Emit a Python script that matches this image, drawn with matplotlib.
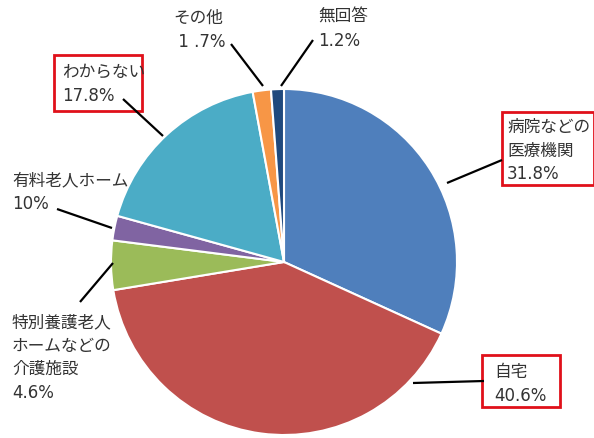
import matplotlib
matplotlib.use("Agg")
import matplotlib.pyplot as plt
from matplotlib.patches import Rectangle

plt.rcParams['font.family'] = ['DejaVu Sans', 'Noto Sans CJK JP']

# data (clockwise from 12 o'clock)
labels = ['病院などの医療機関', '自宅', '特別養護老人ホームなどの介護施設',
          '有料老人ホーム', 'わからない', 'その他', '無回答']
values = [31.8, 40.6, 4.6, 2.3, 17.8, 1.7, 1.2]
colors = ['#4F7FBC', '#C0504D', '#9BBB59', '#8064A2', '#4BACC6', '#F79646', '#1F497D']

# label texts as printed on the chart
label_texts = ['病院などの\n医療機関\n31.8%', '自宅\n40.6%',
               '特別養護老人\nホームなどの\n介護施設\n4.6%',
               '有料老人ホーム\n10%', 'わからない\n17.8%', 'その他\n 1 .7%', '無回答\n1.2%']

W, H = 594, 438


def px(x, y):
    # image pixel coords -> axes coords
    return x, H - y


fig = plt.figure(figsize=(W / 100, H / 100), dpi=100)
ax = fig.add_axes([0, 0, 1, 1])
ax.set_xlim(0, W)
ax.set_ylim(0, H)
ax.axis('off')

ax.pie(values, colors=colors, startangle=90, counterclock=False,
       center=px(284, 262), radius=173,
       wedgeprops=dict(edgecolor='white', linewidth=1.5))
ax.set_xlim(0, W)
ax.set_ylim(0, H)
ax.set_aspect('auto')

txt_color = '#333333'
fs = 12

# (text x, text top y, leader start, leader end, box)
layout = [
    ((507, 118), [(447, 183), (502, 160)], (502, 112, 92, 73)),
    ((494, 363), [(413, 383), (484, 381)], (482, 355, 78, 52)),
    ((12, 313), [(80, 302), (113, 263)], None),
    ((12, 171), [(57, 209), (112, 228)], None),
    ((62, 63), [(123, 99), (163, 136)], (54, 55, 88, 56)),
    ((173, 9), [(231, 44), (263, 86)], None),
    ((318, 8), [(313, 40), (281, 86)], None),
]

for t, (tpos, line, box) in zip(label_texts, layout):
    x, y = px(*tpos)
    ax.text(x, y, t, ha='left', va='top', fontsize=fs, color=txt_color,
            linespacing=1.4)
    (x0, y0), (x1, y1) = line
    ax.plot([x0, x1], [H - y0, H - y1], color='black', lw=1.6,
            solid_capstyle='butt')
    if box is not None:
        bx, by, bw, bh = box
        ax.add_patch(Rectangle((bx, H - by - bh), bw, bh, fill=False,
                               edgecolor='#E0101A', lw=2))

fig.savefig('out.png', dpi=100)
